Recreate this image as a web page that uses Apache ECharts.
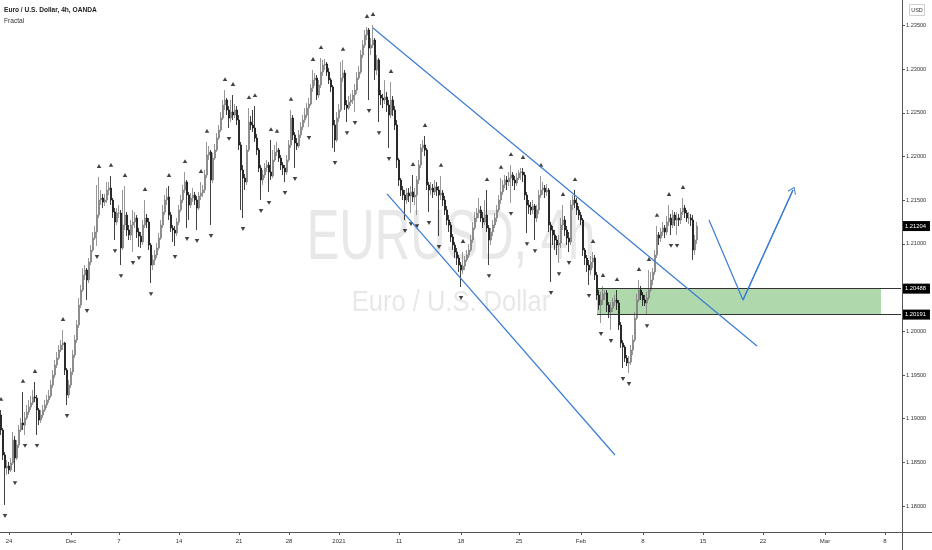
<!DOCTYPE html>
<html><head><meta charset="utf-8">
<script src="https://cdn.jsdelivr.net/npm/echarts@6/dist/echarts.min.js"></script>
<style>html,body{margin:0;padding:0;background:#fff}#c{width:932px;height:550px}</style>
</head><body><div id="c"></div>
<script>
// ---- data (EUR/USD 4h, OANDA) ----
const firstOpen = 1.19042;
const closes = [
1.18871,1.18585,1.18436,1.18459,1.18413,1.18493,1.18756,1.18550,1.18699,1.18871,
1.18951,1.18928,1.19008,1.19077,1.19134,1.19180,1.19248,1.19237,1.19100,1.18985,
1.19042,1.19100,1.19157,1.19214,1.19260,1.19386,1.19500,1.19614,1.19694,1.19786,
1.19843,1.19866,1.19557,1.19271,1.19386,1.19534,1.19729,1.19900,1.20072,1.20301,
1.20472,1.20644,1.20701,1.20587,1.20793,1.20930,1.21067,1.21136,1.21330,1.21502,
1.21525,1.21479,1.21502,1.21616,1.21639,1.21502,1.21365,1.21250,1.21353,1.21353,
1.20953,1.21216,1.21330,1.21159,1.21102,1.21216,1.21250,1.21296,1.21136,1.21090,
1.21022,1.21216,1.21296,1.21250,1.20987,1.20758,1.20816,1.20873,1.20953,1.21067,
1.21216,1.21365,1.21502,1.21536,1.21330,1.21182,1.21159,1.21124,1.21250,1.21388,
1.21502,1.21616,1.21708,1.21559,1.21445,1.21525,1.21559,1.21502,1.21410,1.21548,
1.21582,1.21616,1.21788,1.22017,1.22051,1.21731,1.21982,1.22074,1.22211,1.22303,
1.22440,1.22589,1.22646,1.22532,1.22440,1.22509,1.22474,1.22532,1.22417,1.22131,
1.21845,1.21754,1.21708,1.22074,1.22394,1.22360,1.22326,1.22211,1.22074,1.21868,
1.21731,1.21788,1.21868,1.21902,1.21822,1.21777,1.21960,1.22051,1.22074,1.21982,
1.21902,1.21868,1.21822,1.21960,1.22131,1.22440,1.22246,1.22154,1.22120,1.22246,
1.22337,1.22417,1.22474,1.22554,1.22600,1.22783,1.22875,1.22898,1.22703,1.22818,
1.22966,1.23046,1.23058,1.22966,1.22875,1.22795,1.22360,1.22188,1.22440,1.22532,
1.22898,1.22955,1.22589,1.22554,1.22623,1.22646,1.22703,1.22760,1.22898,1.22966,
1.23161,1.23275,1.23390,1.23447,1.23241,1.23275,1.23332,1.22989,1.23104,1.22703,
1.22669,1.22646,1.22680,1.22589,1.22474,1.22646,1.22532,1.22360,1.21960,1.21731,
1.21616,1.21559,1.21502,1.21582,1.21548,1.21594,1.21536,1.21559,1.21731,1.21902,
1.22097,1.22131,1.22074,1.21674,1.21616,1.21639,1.21594,1.21651,1.21616,1.21559,
1.21582,1.21502,1.21388,1.21273,1.21216,1.21079,1.20987,1.20907,1.20838,1.20758,
1.20701,1.20747,1.20816,1.20873,1.20930,1.21044,1.21182,1.21296,1.21353,1.21388,
1.21296,1.21250,1.21330,1.21182,1.21044,1.21136,1.21216,1.21296,1.21388,1.21502,
1.21594,1.21674,1.21731,1.21708,1.21754,1.21788,1.21731,1.21696,1.21754,1.21811,
1.21822,1.21788,1.21559,1.21445,1.21422,1.21388,1.21433,1.21296,1.21388,1.21559,
1.21616,1.21639,1.21594,1.21616,1.21216,1.21159,1.21102,1.21044,1.20987,1.21010,
1.21216,1.21273,1.21159,1.21067,1.21022,1.21445,1.21502,1.21468,1.21388,1.21330,
1.21273,1.20930,1.20838,1.20758,1.20701,1.20793,1.20838,1.20644,1.20415,1.20301,
1.20358,1.20427,1.20438,1.20301,1.20221,1.20266,1.20335,1.20358,1.20324,1.20072,
1.19866,1.19820,1.19694,1.19637,1.19649,1.19786,1.19900,1.20152,1.20358,1.20472,
1.20415,1.20358,1.20324,1.20381,1.20472,1.20587,1.20678,1.20873,1.21102,1.21067,
1.21136,1.21182,1.21136,1.21250,1.21296,1.21216,1.21330,1.21273,1.21296,1.21273,
1.21365,1.21410,1.21353,1.21296,1.21296,1.21273,1.20930,1.21044,1.21204
];
const highs = [
1.19100,1.18894,1.18619,1.18528,1.18505,1.18550,1.18848,1.18802,1.18756,1.18928,
1.19008,1.19306,1.19077,1.19157,1.19214,1.19260,1.19328,1.19420,1.19271,1.19122,
1.19100,1.19157,1.19214,1.19271,1.19328,1.19443,1.19557,1.19672,1.19763,1.19843,
1.19900,1.20015,1.19878,1.19580,1.19443,1.19580,1.19786,1.19958,1.20129,1.20381,
1.20530,1.20724,1.20758,1.20724,1.20838,1.20987,1.21136,1.21205,1.21674,1.21765,
1.21616,1.21571,1.21571,1.21708,1.21708,1.21777,1.21525,1.21410,1.21410,1.21445,
1.21388,1.21616,1.21662,1.21365,1.21216,1.21273,1.21388,1.21365,1.21330,1.21182,
1.21136,1.21273,1.21502,1.21342,1.21296,1.21010,1.20873,1.20930,1.21010,1.21124,
1.21273,1.21445,1.21559,1.21639,1.21662,1.21365,1.21216,1.21205,1.21296,1.21445,
1.21559,1.21674,1.21822,1.21731,1.21594,1.21582,1.21639,1.21594,1.21548,1.21594,
1.21708,1.21674,1.21845,1.22166,1.22120,1.22074,1.22040,1.22143,1.22268,1.22360,
1.22509,1.22646,1.22760,1.22669,1.22577,1.22646,1.22703,1.22600,1.22577,1.22474,
1.22166,1.21902,1.21799,1.22131,1.22554,1.22463,1.22532,1.22577,1.22257,1.22097,
1.21902,1.21845,1.21925,1.21960,1.21937,1.22188,1.22074,1.22131,1.22166,1.22097,
1.22017,1.21937,1.21902,1.22017,1.22188,1.22532,1.22474,1.22280,1.22211,1.22303,
1.22394,1.22474,1.22554,1.22612,1.22669,1.22829,1.22989,1.22955,1.22932,1.22875,
1.23126,1.23104,1.23115,1.23081,1.23012,1.22898,1.22818,1.22417,1.22509,1.22600,
1.23081,1.23104,1.22989,1.22646,1.22692,1.22715,1.22760,1.22829,1.22966,1.23035,
1.23218,1.23332,1.23447,1.23481,1.23470,1.23355,1.23504,1.23355,1.23161,1.23126,
1.22760,1.22715,1.22875,1.22738,1.22646,1.22852,1.22692,1.22577,1.22417,1.21982,
1.21754,1.21662,1.21616,1.21639,1.21639,1.21662,1.21788,1.21639,1.21777,1.21960,
1.22143,1.22188,1.22234,1.22097,1.21708,1.21708,1.21685,1.21731,1.21708,1.21662,
1.21777,1.21616,1.21548,1.21433,1.21330,1.21250,1.21113,1.21022,1.20953,1.20873,
1.20793,1.20907,1.20861,1.20930,1.20999,1.21102,1.21250,1.21365,1.21410,1.21525,
1.21433,1.21365,1.21502,1.21616,1.21216,1.21182,1.21273,1.21353,1.21445,1.21559,
1.21754,1.21731,1.21788,1.21777,1.21822,1.21902,1.21822,1.21777,1.21811,1.21845,
1.21868,1.21868,1.21822,1.21594,1.21502,1.21479,1.21502,1.21456,1.21445,1.21616,
1.21777,1.21708,1.21674,1.21685,1.21639,1.21250,1.21205,1.21159,1.21090,1.21102,
1.21296,1.21445,1.21319,1.21205,1.21136,1.21502,1.21559,1.21616,1.21525,1.21433,
1.21365,1.21296,1.20953,1.20873,1.20816,1.20861,1.20907,1.20873,1.20678,1.20472,
1.20450,1.20518,1.20472,1.20472,1.20335,1.20335,1.20381,1.20416,1.20472,1.20358,
1.20106,1.19900,1.19843,1.19729,1.19717,1.19843,1.19958,1.20221,1.20427,1.20587,
1.20518,1.20450,1.20415,1.20450,1.20701,1.20678,1.20724,1.20930,1.21205,1.21136,
1.21182,1.21250,1.21216,1.21319,1.21445,1.21342,1.21388,1.21365,1.21365,1.21342,
1.21410,1.21525,1.21445,1.21388,1.21365,1.21342,1.21330,1.21102,1.21250
];
const lows = [
1.18814,1.18528,1.18013,1.18356,1.18367,1.18390,1.18470,1.18390,1.18528,1.18665,
1.18848,1.18871,1.18814,1.18985,1.19042,1.19100,1.19157,1.19191,1.18814,1.18928,
1.18951,1.19008,1.19077,1.19122,1.19180,1.19237,1.19351,1.19466,1.19580,1.19672,
1.19763,1.19786,1.19500,1.19157,1.19237,1.19351,1.19500,1.19694,1.19866,1.20038,
1.20266,1.20450,1.20587,1.20358,1.20552,1.20758,1.20907,1.21044,1.20976,1.21296,
1.21445,1.21410,1.21433,1.21468,1.21559,1.21445,1.21296,1.21044,1.21216,1.21296,
1.20758,1.20930,1.21159,1.21090,1.21044,1.21044,1.20907,1.21182,1.21067,1.20964,
1.20953,1.20987,1.21182,1.21182,1.20930,1.20552,1.20701,1.20758,1.20838,1.20930,
1.21044,1.21182,1.21330,1.21445,1.21273,1.21136,1.21022,1.20976,1.21090,1.21216,
1.21365,1.21468,1.21582,1.21182,1.21273,1.21410,1.21479,1.21445,1.21159,1.21388,
1.21502,1.21536,1.21582,1.21754,1.21960,1.21216,1.21696,1.21960,1.22051,1.22188,
1.22280,1.22417,1.22532,1.22474,1.22326,1.22394,1.22417,1.22440,1.22360,1.22074,
1.21388,1.21296,1.21616,1.21674,1.22051,1.22303,1.22280,1.22166,1.22017,1.21822,
1.21502,1.21674,1.21754,1.21822,1.21594,1.21731,1.21754,1.21937,1.22005,1.21937,
1.21845,1.21788,1.21708,1.21788,1.21937,1.22097,1.22188,1.21868,1.22074,1.22097,
1.22211,1.22303,1.22383,1.22440,1.22337,1.22577,1.22738,1.22806,1.22646,1.22669,
1.22783,1.22921,1.22989,1.22921,1.22829,1.22738,1.22097,1.22051,1.22166,1.22394,
1.22509,1.22852,1.22532,1.22394,1.22532,1.22577,1.22600,1.22509,1.22715,1.22875,
1.22943,1.23126,1.23241,1.23332,1.22646,1.23161,1.23241,1.22875,1.22932,1.22394,
1.22589,1.22554,1.22600,1.22509,1.22097,1.22440,1.22463,1.22303,1.21868,1.21662,
1.21548,1.21502,1.21273,1.21456,1.21479,1.21353,1.21479,1.21445,1.21330,1.21685,
1.21868,1.22051,1.22005,1.21616,1.21365,1.21559,1.21525,1.21559,1.21548,1.21090,
1.21502,1.21433,1.21330,1.21216,1.21136,1.21022,1.20930,1.20838,1.20758,1.20678,
1.20507,1.20655,1.20701,1.20793,1.20838,1.20907,1.21010,1.21159,1.21250,1.21296,
1.21250,1.21182,1.21216,1.21136,1.20758,1.20987,1.21090,1.21182,1.21250,1.21365,
1.21456,1.21559,1.21639,1.21616,1.21662,1.21468,1.21662,1.21616,1.21662,1.21731,
1.21731,1.21708,1.21502,1.21124,1.21342,1.21330,1.21342,1.21044,1.21250,1.21342,
1.21525,1.21559,1.21525,1.21548,1.21136,1.20564,1.20987,1.20930,1.20873,1.20781,
1.20953,1.21159,1.21090,1.20987,1.20907,1.20987,1.21388,1.21410,1.21330,1.21273,
1.21216,1.20861,1.20758,1.20678,1.20530,1.20644,1.20724,1.20587,1.20358,1.20244,
1.20095,1.20301,1.20358,1.20221,1.20152,1.20015,1.20221,1.20289,1.20244,1.20015,
1.19809,1.19580,1.19649,1.19603,1.19523,1.19614,1.19729,1.19878,1.20129,1.20335,
1.20358,1.20289,1.20289,1.20186,1.20358,1.20450,1.20530,1.20644,1.20838,1.20987,
1.21022,1.21090,1.21067,1.21102,1.21205,1.21102,1.21182,1.21205,1.21102,1.21205,
1.21227,1.21330,1.21296,1.21250,1.21227,1.21205,1.20816,1.20873,1.20999
];
const fractalUpIdx = [0,11,17,31,49,55,62,72,84,92,100,103,112,116,124,127,135,138,145,156,160,171,183,186,195,206,212,220,231,243,250,255,261,270,281,287,296,301,308,319,324,328,334,341];
const fractalDownIdx = [2,7,12,18,33,43,48,57,60,66,69,75,87,93,98,105,114,121,130,134,142,147,154,167,173,177,184,189,194,202,205,208,214,219,230,244,255,263,267,275,279,284,294,300,305,311,314,323,335,338];
const xTickIdx = [4,35,59,89,119,144,169,199,230,259,290,321,351,381,412,442];
const xTickLabels = ['24','Dec','7','14','21','28','2021','11','18','25','Feb','8','15','22','Mar','8'];
const yTicks = [1.18,1.185,1.19,1.195,1.2,1.205,1.21,1.215,1.22,1.225,1.23,1.235];
const priceRange = [1.17704, 1.2379];
const slotCount = 451;
const lastPrice = 1.21204;
const zoneTop = 1.20488, zoneBottom = 1.20191;
const zoneStartIdx = 298, zoneFillEndIdx = 440;
const upperTrend = [[186,1.23470],[378,1.19832]];
const lowerTrend = [[193,1.21571],[307,1.18585]];
const projection = [[354,1.21273],[371,1.20358],[396,1.21616]];

// ---- build ----
const cats = Array.from({length: slotCount}, (_, i) => String(i));
const ohlc = closes.map((c, i) => [i === 0 ? firstOpen : closes[i - 1], c, lows[i], highs[i]]);
const blue = '#3a7bd5';
const font = 'Liberation Sans, Arial, sans-serif';
const chevron = 'path://M0,0 L6,9 L5,10 L0,2.2 L-5,10 L-6,9 Z';
const priceTag = {show: true, position: 'end', formatter: '{b}', distance: 1,
  backgroundColor: '#000', color: '#fff', fontSize: 5.8, fontFamily: font, padding: [2, 4, 2, 3]};

const chart = echarts.init(document.getElementById('c'), null, {renderer: 'canvas'});
chart.setOption({
  animation: false,
  backgroundColor: '#ffffff',
  grid: {left: 0, right: 30, top: 0, bottom: 18, containLabel: false},
  xAxis: {
    type: 'category', data: cats, boundaryGap: true,
    axisLine: {show: false},
    axisTick: {show: true, alignWithLabel: true, length: 3, interval: (i) => xTickIdx.includes(i), lineStyle: {color: '#555'}},
    axisLabel: {interval: (i) => xTickIdx.includes(i), formatter: (v, i) => xTickLabels[xTickIdx.indexOf(i)] || '',
      fontSize: 6, color: '#333', fontFamily: font, margin: 6},
    splitLine: {show: false}
  },
  yAxis: {
    type: 'value', position: 'right', min: priceRange[0], max: priceRange[1], scale: true,
    axisLine: {show: false},
    axisTick: {show: true, length: 3, customValues: yTicks, lineStyle: {color: '#555'}},
    axisLabel: {customValues: yTicks, formatter: (v) => v.toFixed(5), fontSize: 5.6, color: '#333', fontFamily: font, margin: 4},
    splitLine: {show: false}
  },
  series: [
    {
      type: 'candlestick', data: ohlc, barWidth: 1.5, z: 2,
      itemStyle: {color: '#959595', color0: '#111111', borderColor: '#7d7d7d', borderColor0: '#111111', borderWidth: 0.8}
    },
    {
      type: 'scatter', data: fractalUpIdx.map(i => [i, highs[i]]), symbol: 'triangle', symbolSize: [4.5, 3.8],
      symbolOffset: [0, -11], itemStyle: {color: '#111'}, z: 3, silent: true
    },
    {
      type: 'scatter', data: fractalDownIdx.map(i => [i, lows[i]]), symbol: 'triangle', symbolSize: [4.5, 3.8],
      symbolRotate: 180, symbolOffset: [0, 11], itemStyle: {color: '#111'}, z: 3, silent: true
    },
    {
      type: 'line', data: [[zoneStartIdx, zoneTop]], showSymbol: false, lineStyle: {opacity: 0}, z: 4, silent: true,
      markArea: {silent: true, itemStyle: {color: 'rgba(96,180,90,0.5)'},
        data: [[{coord: [zoneStartIdx, zoneTop]}, {coord: [zoneFillEndIdx, zoneBottom]}]]},
      markLine: {silent: true, symbol: ['none', 'none'],
        lineStyle: {color: '#333', width: 1, type: 'solid'},
        label: priceTag,
        data: [
          [{name: zoneTop.toFixed(5), coord: [zoneStartIdx, zoneTop]}, {coord: [slotCount - 1, zoneTop]}],
          [{name: zoneBottom.toFixed(5), coord: [zoneStartIdx, zoneBottom]}, {coord: [slotCount - 1, zoneBottom]}]
        ]}
    },
    {
      type: 'line', data: [[slotCount - 2, lastPrice], [slotCount - 1, lastPrice]], showSymbol: false,
      lineStyle: {color: 'rgba(0,0,0,0)', width: 1}, z: 6, silent: true,
      markLine: {silent: true, symbol: ['none', 'none'],
        lineStyle: {color: 'rgba(0,0,0,0)', width: 1, type: 'solid'},
        label: priceTag,
        data: [[{name: lastPrice.toFixed(5), coord: [slotCount - 2, lastPrice]}, {coord: [slotCount - 1, lastPrice]}]]}
    },
    {type: 'line', data: upperTrend, showSymbol: false, lineStyle: {color: blue, width: 1.2}, z: 5, silent: true},
    {type: 'line', data: lowerTrend, showSymbol: false, lineStyle: {color: blue, width: 1.2}, z: 5, silent: true},
    {
      type: 'line', data: projection, showSymbol: false, lineStyle: {color: blue, width: 1.2}, z: 5, silent: true,
      markLine: {silent: true, symbol: ['none', chevron], symbolSize: [9, 7],
        lineStyle: {color: blue, width: 1.2, type: 'solid'}, label: {show: false},
        data: [[{coord: projection[1]}, {coord: projection[2]}]]}
    }
  ],
  graphic: [
    {type: 'text', x: 451, y: 240, scaleX: 0.7, z: 0, silent: true,
      style: {text: 'EURUSD, 4h', fontSize: 70, fontFamily: font, fill: '#e8e8e8', textAlign: 'center', textVerticalAlign: 'middle'}},
    {type: 'text', x: 451, y: 303, scaleX: 0.85, z: 0, silent: true,
      style: {text: 'Euro / U.S. Dollar', fontSize: 30, fontFamily: font, fill: '#e8e8e8', textAlign: 'center', textVerticalAlign: 'middle'}},
    {type: 'line', z: 20, silent: true, shape: {x1: 902.5, y1: 0, x2: 902.5, y2: 550}, style: {stroke: '#555', lineWidth: 1}},
    {type: 'line', z: 20, silent: true, shape: {x1: 0, y1: 532.5, x2: 932, y2: 532.5}, style: {stroke: '#555', lineWidth: 1}},
    {type: 'rect', z: 20, silent: true, shape: {x: 909.5, y: 4.5, width: 15, height: 11}, style: {fill: '#fff', stroke: '#d0d0d0', lineWidth: 1}},
    {type: 'text', z: 21, silent: true, x: 917, y: 10.5,
      style: {text: 'USD', fontSize: 5.5, fontFamily: font, fill: '#333', textAlign: 'center', textVerticalAlign: 'middle'}},
    {type: 'text', z: 21, silent: true, x: 4, y: 10,
      style: {text: 'Euro / U.S. Dollar, 4h, OANDA', fontSize: 6.6, fontWeight: 'bold', fontFamily: font, fill: '#222', textVerticalAlign: 'middle'}},
    {type: 'text', z: 21, silent: true, x: 4, y: 21,
      style: {text: 'Fractal', fontSize: 6.6, fontFamily: font, fill: '#333', textVerticalAlign: 'middle'}}
  ]
});
</script>
</body></html>
